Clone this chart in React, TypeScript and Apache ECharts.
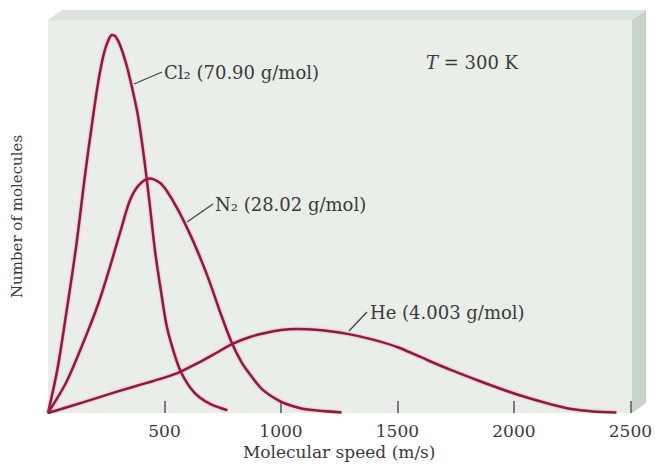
import React, { useEffect, useRef } from "react";
import * as echarts from "echarts";

const xTicks = [500, 1000, 1500, 2000, 2500];

const cl2Speeds = [0, 40, 80, 120, 160, 190, 215, 240, 260, 275, 290, 310, 335, 360, 385, 410, 435, 460, 485, 510, 540, 570, 610, 650, 700, 770];
const cl2Values = [0, 11, 26, 42, 61, 74, 84, 91.5, 95, 96.2, 95.8, 93.5, 89, 83, 76, 66, 54, 41, 31, 22, 15.5, 10.5, 6.5, 4, 2.2, 0.7];

const n2Speeds = [0, 80, 167, 220, 265, 310, 351, 390, 437, 480, 509, 560, 608, 650, 693, 740, 788, 830, 865, 920, 993, 1060, 1122, 1260];
const n2Values = [0, 8, 20.2, 28.5, 37, 46, 54, 58, 59.7, 58.6, 56.6, 51.5, 45.7, 40, 33.5, 25.5, 18, 13, 10, 6, 3.1, 1.6, 0.8, 0.15];

const heSpeeds = [0, 150, 300, 420, 500, 565, 640, 720, 792, 870, 938, 1000, 1066, 1150, 1280, 1400, 1507, 1635, 1740, 1849, 1960, 2063, 2160, 2247, 2340, 2440];
const heValues = [0, 2.7, 5.5, 7.6, 9.0, 10.4, 12.6, 15.2, 17.6, 19.4, 20.4, 21.1, 21.4, 21.2, 20.2, 18.6, 16.6, 13.3, 10.7, 8.2, 5.8, 3.8, 2.2, 1.0, 0.4, 0.1];

const seriesNames = ["Cl₂ (70.90 g/mol)", "N₂ (28.02 g/mol)", "He (4.003 g/mol)"];

const W = 655;
const H = 468;
const GL = 48;
const GR = 632;
const GT = 20;
const GB = 413;
const DX = 14;
const DY = -10;
const FONT = "'DejaVu Serif', 'Liberation Serif', serif";
const TXT = "#3a3a3a";
const CURVE = "#8a1a3e";

function pairs(xs: number[], ys: number[]) {
  return xs.map((x, i) => [x, ys[i]]);
}

export default function App() {
  const ref = useRef<HTMLDivElement>(null);
  useEffect(() => {
    if (!ref.current) return;
    const chart = echarts.init(ref.current, undefined, { renderer: "svg" });
    const lineStyle = { color: CURVE, width: 2.5, shadowColor: "rgba(235,70,130,0.55)", shadowBlur: 2 };
    const mk = (name: string, xs: number[], ys: number[]) => ({
      type: "line",
      name,
      data: pairs(xs, ys),
      smooth: 0.3,
      showSymbol: false,
      symbol: "none",
      lineStyle,
      z: 5,
    });
    const textStyle = { fontFamily: FONT, fontSize: 18, fill: TXT };
    chart.setOption({
      animation: false,
      grid: { left: GL, right: W - GR, top: GT, bottom: H - GB },
      xAxis: {
        type: "value",
        min: 0,
        max: 2500,
        interval: 500,
        name: "Molecular speed (m/s)",
        nameLocation: "middle",
        nameGap: 29,
        nameTextStyle: { fontFamily: FONT, fontSize: 17, color: TXT },
        axisLine: { show: false },
        axisTick: {
          show: true,
          inside: true,
          length: 12,
          lineStyle: { color: "#555", width: 1.5 },
          customValues: xTicks,
        },
        axisLabel: {
          fontFamily: FONT,
          fontSize: 17,
          color: TXT,
          margin: 9,
          customValues: xTicks,
          formatter: (v: number) => String(v),
        },
        splitLine: { show: false },
      },
      yAxis: {
        type: "value",
        min: 0,
        max: 100,
        name: "Number of molecules",
        nameLocation: "middle",
        nameGap: 24,
        nameTextStyle: { fontFamily: FONT, fontSize: 15, color: TXT },
        axisLine: { show: false },
        axisTick: { show: false },
        axisLabel: { show: false },
        splitLine: { show: false },
      },
      graphic: [
        {
          type: "polygon",
          z: 0,
          silent: true,
          shape: { points: [[GL, GT], [GL + DX, GT + DY], [GR + DX, GT + DY], [GR, GT]] },
          style: { fill: "#dde4dd" },
        },
        {
          type: "polygon",
          z: 0,
          silent: true,
          shape: { points: [[GR, GT], [GR + DX, GT + DY], [GR + DX, GB + DY], [GR, GB]] },
          style: { fill: "#c7d2c8" },
        },
        {
          type: "rect",
          z: 0,
          silent: true,
          shape: { x: GL, y: GT, width: GR - GL, height: GB - GT },
          style: { fill: "#e9eee9" },
        },
        { type: "line", z: 6, shape: { x1: 134, y1: 84, x2: 162, y2: 72 }, style: { stroke: "#444", lineWidth: 1.3 } },
        { type: "text", z: 6, x: 164, y: 72, style: { ...textStyle, text: seriesNames[0], verticalAlign: "middle" } },
        { type: "line", z: 6, shape: { x1: 187, y1: 222, x2: 213, y2: 204 }, style: { stroke: "#444", lineWidth: 1.3 } },
        { type: "text", z: 6, x: 215, y: 204, style: { ...textStyle, text: seriesNames[1], verticalAlign: "middle" } },
        { type: "line", z: 6, shape: { x1: 349, y1: 331, x2: 367, y2: 312 }, style: { stroke: "#444", lineWidth: 1.3 } },
        { type: "text", z: 6, x: 370, y: 312, style: { ...textStyle, text: seriesNames[2], verticalAlign: "middle" } },
        {
          type: "text",
          z: 6,
          x: 426,
          y: 62,
          style: {
            text: "{i|T}{n| = 300 K}",
            verticalAlign: "middle",
            rich: {
              i: { fontFamily: FONT, fontSize: 18, fontStyle: "italic", fill: TXT, color: TXT },
              n: { fontFamily: FONT, fontSize: 18, fill: TXT, color: TXT },
            },
          },
        },
      ],
      series: [mk(seriesNames[0], cl2Speeds, cl2Values), mk(seriesNames[1], n2Speeds, n2Values), mk(seriesNames[2], heSpeeds, heValues)],
    });
    return () => chart.dispose();
  }, []);
  return <div ref={ref} style={{ width: W, height: H, position: "absolute", left: 0, top: 0, background: "#fff" }} />;
}
